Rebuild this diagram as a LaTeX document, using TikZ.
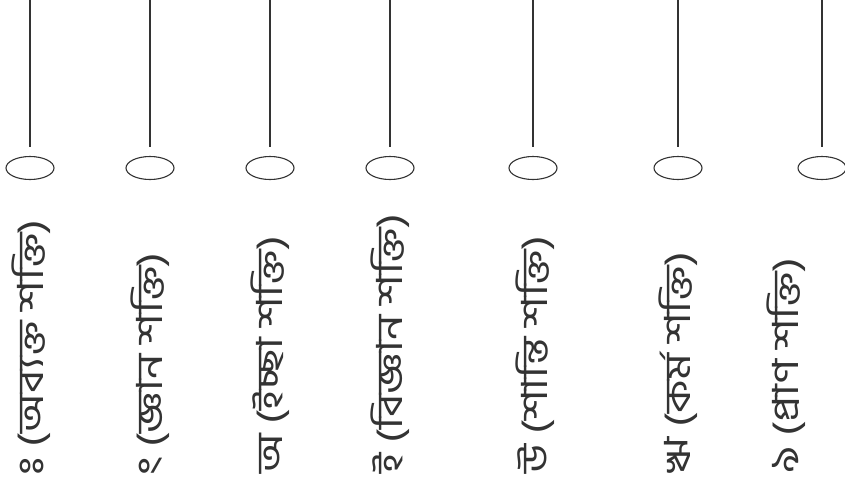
\documentclass[tikz,border=0pt]{standalone}
\usepackage{fontspec}
\usetikzlibrary{shapes.geometric}
\newfontfamily\bnfont[Script=Bengali]{Hind Siliguri}
\definecolor{ink}{HTML}{333333}
\tikzset{
  stem/.style={draw=ink, line width=1.1pt, shorten >=9pt},
  knot/.style={draw=ink, line width=1.1pt, ellipse, minimum width=48pt,
    minimum height=23pt, inner sep=0pt},
  tag/.style={rotate=90, anchor=west, text=ink, inner sep=0pt,
    font=\bnfont\fontsize{36}{36}\selectfont},
}
% stretch a label along its reading direction
\newcommand\stretchtag[1]{\scalebox{1.24}[1]{#1}}
% a standalone sign (visarga, anusvara) set as its bare glyph
\newcommand\baresign[1]{\XeTeXglyph\XeTeXcharglyph"#1\relax}
\begin{document}
\begin{tikzpicture}[x=1pt, y=-1pt]
\useasboundingbox (0,0) rectangle (845,490);
\fill[white] (0,0) rectangle (845,490);

% the seven hanging threads, each ending above its bead
\foreach \n/\x in {1/30, 2/150, 3/270, 4/390, 5/533, 6/678, 7/822}{
  \coordinate (top\n) at (\x,0);
  \node[knot] (bead\n) at (\x,168) {};
  \draw[stem] (top\n) -- (bead\n.north);
}

% labels, read from bottom to top
\node[tag] (tag1) at (31,476)  {\stretchtag{\baresign{0983} (অব্যক্ত শক্তি)}};
\node[tag] (tag2) at (150,476) {\stretchtag{\baresign{0982} (জ্ঞান শক্তি)}};
\node[tag] (tag3) at (270,474) {\stretchtag{অ (ইচ্ছা শক্তি)}};
\node[tag] (tag4) at (390,474) {\stretchtag{ই (বিজ্ঞান শক্তি)}};
\node[tag] (tag5) at (535,474) {\stretchtag{উ (শান্তি শক্তি)}};
\node[tag] (tag6) at (678,474) {\stretchtag{ঋ (কর্ম শক্তি)}};
\node[tag] (tag7) at (786,474) {\stretchtag{ঌ (প্রাণ শক্তি)}};
\end{tikzpicture}
\end{document}
